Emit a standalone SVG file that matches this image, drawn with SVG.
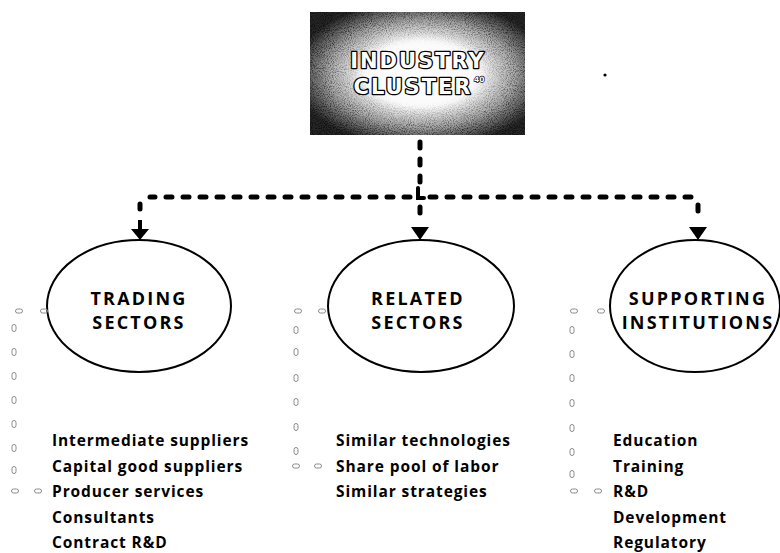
<svg xmlns="http://www.w3.org/2000/svg" width="780" height="553" viewBox="0 0 780 553">
<defs>
<radialGradient id="glow" cx="0.52" cy="0.5" r="0.6">
<stop offset="0" stop-color="#ffffff"/>
<stop offset="0.45" stop-color="#fafafa"/>
<stop offset="0.72" stop-color="#a8a8a8"/>
<stop offset="1" stop-color="#262626"/>
</radialGradient>
<radialGradient id="mg" cx="0.52" cy="0.5" r="0.6">
<stop offset="0" stop-color="#000"/>
<stop offset="0.4" stop-color="#000"/>
<stop offset="0.75" stop-color="#bbb"/>
<stop offset="1" stop-color="#fff"/>
</radialGradient>
<mask id="edge" maskContentUnits="userSpaceOnUse">
<rect x="310" y="12" width="215" height="123" fill="url(#mg)"/>
</mask>
<filter id="grain" x="0" y="0" width="1" height="1">
<feTurbulence type="fractalNoise" baseFrequency="0.95" numOctaves="2" seed="3" result="n"/>
<feColorMatrix in="n" type="matrix" values="0 0 0 0 0  0 0 0 0 0  0 0 0 0 0  0 0 0 -2.2 1.3" result="a"/>
<feComposite in="a" in2="SourceGraphic" operator="in"/>
</filter>
<style>
.title{font-family:"DejaVu Sans","Liberation Sans",sans-serif;font-weight:bold;font-size:21px;letter-spacing:2px;fill:#fff;stroke:#000;stroke-width:2.6px;paint-order:stroke;stroke-linejoin:round;text-anchor:middle}
.sup{font-family:"DejaVu Sans",sans-serif;font-weight:bold;font-size:7.5px;fill:#fff;stroke:#000;stroke-width:1.3px;paint-order:stroke}
.ell{fill:#fff;stroke:#000;stroke-width:2}
.hd{font-family:"Open Sans","Liberation Sans",sans-serif;font-weight:bold;font-size:18px;letter-spacing:2.2px;text-anchor:middle;fill:#000}
.it{font-family:"Open Sans","Liberation Sans",sans-serif;font-weight:bold;font-size:15.5px;letter-spacing:0.9px;fill:#000}
.dash{fill:none;stroke:#000;stroke-width:5;stroke-linecap:round;stroke-dasharray:6 11}
.mk{fill:none;stroke:#8a8a8a;stroke-width:1}
</style>
<rect id="mh" x="-3.5" y="-2" width="7" height="4" rx="2"/>
<rect id="mv" x="-2" y="-3.5" width="4" height="7" rx="2"/>
</defs>
<rect width="780" height="553" fill="#fff"/>

<g id="industry-cluster">
<rect x="310" y="12" width="215" height="123" fill="url(#glow)"/>
<g mask="url(#edge)">
<rect x="310" y="12" width="215" height="123" fill="#000" filter="url(#grain)" opacity="0.8"/>
</g>
<text class="title" x="418" y="68">INDUSTRY</text>
<text class="title" x="413" y="94">CLUSTER</text>
<text class="sup" x="474" y="82">40</text>
</g>

<circle cx="605" cy="75" r="1.6" fill="#000"/>

<g id="connectors">
<path class="dash" d="M420 142 V190"/>
<path class="dash" d="M410 197 H150"/>
<path class="dash" d="M430 197 H700"/>
<path d="M418 188 V198 H424" fill="none" stroke="#000" stroke-width="4" stroke-linecap="round"/>
<path class="dash" d="M140 204 V209"/>
<path d="M138 220 H142 V229 H149 L140 240 L131 229 H138 Z" fill="#000"/>
<path class="dash" d="M420 207 V213"/>
<path d="M411 227 H429 L420 240 Z" fill="#000"/>
<path class="dash" d="M698 205 V211"/>
<path d="M689 227 H707 L698 240 Z" fill="#000"/>
</g>

<g id="trading-sectors">
<ellipse class="ell" cx="139" cy="306" rx="92" ry="66"/>
<text class="hd" x="139" y="305">TRADING</text>
<text class="hd" x="139" y="329">SECTORS</text>
<text class="it" x="52" y="446">Intermediate suppliers</text>
<text class="it" x="52" y="472">Capital good suppliers</text>
<text class="it" x="52" y="497">Producer services</text>
<text class="it" x="52" y="523">Consultants</text>
<text class="it" x="52" y="548">Contract R&amp;D</text>
<g class="mk">
<use href="#mh" x="19" y="311"/><use href="#mh" x="44" y="311"/>
<use href="#mv" x="14" y="328"/><use href="#mv" x="14" y="352"/><use href="#mv" x="14" y="376"/>
<use href="#mv" x="14" y="400"/><use href="#mv" x="14" y="424"/><use href="#mv" x="14" y="448"/><use href="#mv" x="14" y="470"/>
<use href="#mh" x="15" y="491"/><use href="#mh" x="38" y="491"/>
</g>
</g>

<g id="related-sectors">
<ellipse class="ell" cx="421" cy="306" rx="93" ry="66"/>
<text class="hd" x="418" y="305">RELATED</text>
<text class="hd" x="418" y="329">SECTORS</text>
<text class="it" x="336" y="446">Similar technologies</text>
<text class="it" x="336" y="472">Share pool of labor</text>
<text class="it" x="336" y="497">Similar strategies</text>
<g class="mk">
<use href="#mh" x="298" y="311"/><use href="#mh" x="322" y="311"/>
<use href="#mv" x="296" y="330"/><use href="#mv" x="296" y="352"/><use href="#mv" x="296" y="378"/>
<use href="#mv" x="296" y="402"/><use href="#mv" x="296" y="427"/><use href="#mv" x="296" y="451"/>
<use href="#mh" x="296" y="466"/><use href="#mh" x="318" y="466"/>
</g>
</g>

<g id="supporting-institutions">
<ellipse class="ell" cx="695" cy="306" rx="85" ry="66"/>
<text class="hd" x="698" y="305">SUPPORTING</text>
<text class="hd" x="698" y="329">INSTITUTIONS</text>
<text class="it" x="613" y="446">Education</text>
<text class="it" x="613" y="472">Training</text>
<text class="it" x="613" y="497">R&amp;D</text>
<text class="it" x="613" y="523">Development</text>
<text class="it" x="613" y="548">Regulatory</text>
<g class="mk">
<use href="#mh" x="574" y="311"/><use href="#mh" x="601" y="311"/>
<use href="#mv" x="572" y="330"/><use href="#mv" x="572" y="354"/><use href="#mv" x="572" y="378"/>
<use href="#mv" x="572" y="403"/><use href="#mv" x="572" y="428"/><use href="#mv" x="572" y="452"/><use href="#mv" x="572" y="474"/>
<use href="#mh" x="574" y="491"/><use href="#mh" x="598" y="491"/>
</g>
</g>
</svg>
